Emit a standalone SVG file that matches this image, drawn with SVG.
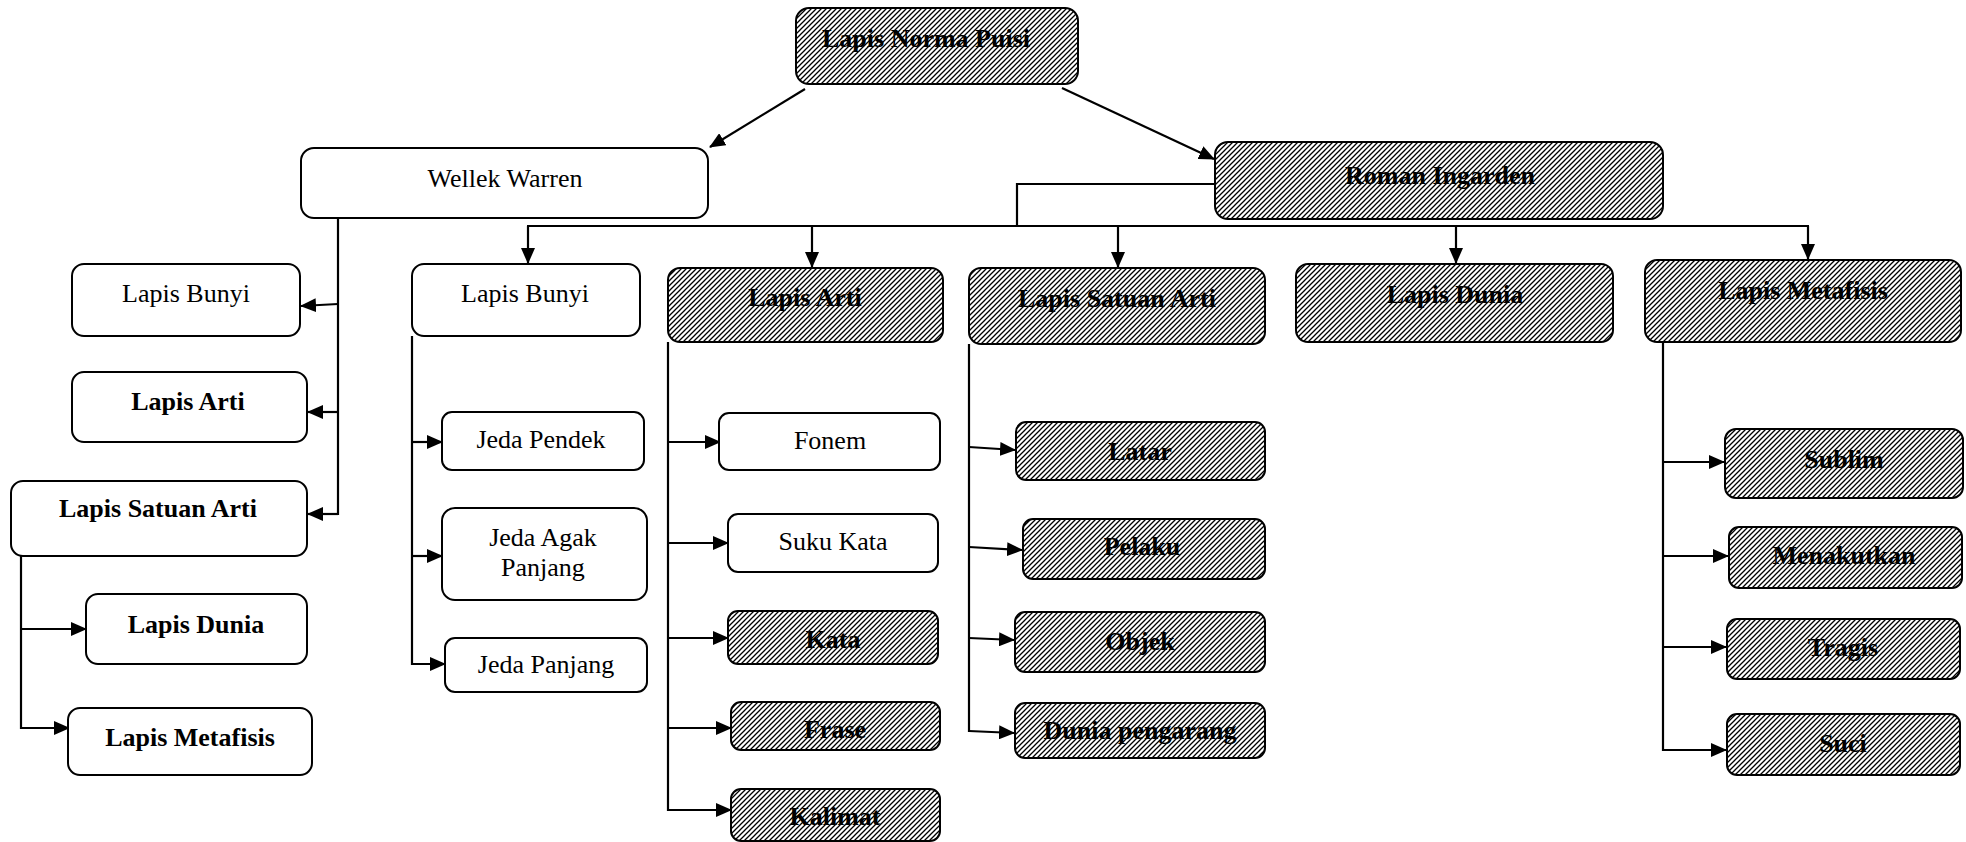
<svg xmlns="http://www.w3.org/2000/svg" width="1966" height="842" viewBox="0 0 1966 842">
<style>
.b{fill:#fff;stroke:#000;stroke-width:2}
.h{fill:url(#hatch);stroke:#000;stroke-width:2}
text{font-family:"Liberation Serif","Times New Roman",serif;font-size:26px;fill:#000;text-anchor:middle}
.bd{font-weight:bold}
.c line,.c polyline{stroke:#000;stroke-width:2.2;fill:none}
.a{marker-end:url(#ah)}
</style>
<defs>
<pattern id="hatch" patternUnits="userSpaceOnUse" width="5" height="5">
<rect width="5" height="5" fill="#fff"/>
<path d="M-1,1 L1,-1 M0,5 L5,0 M4,6 L6,4" stroke="#000" stroke-width="1.3"/>
</pattern>
<marker id="ah" markerWidth="16" markerHeight="14" refX="15" refY="7" orient="auto" markerUnits="userSpaceOnUse">
<path d="M0,0 L16,7 L0,14 z" fill="#000"/>
</marker>
</defs>
<rect width="1966" height="842" fill="#fff"/>

<g class="c" id="connectors">
<line class="a" x1="805" y1="89" x2="710" y2="147"/>
<line class="a" x1="1062" y1="88" x2="1214" y2="159"/>
<polyline points="1215,184 1017,184 1017,226"/>
<line x1="527" y1="226" x2="1809" y2="226"/>
<line class="a" x1="528" y1="226" x2="528" y2="263"/>
<line class="a" x1="812" y1="226" x2="812" y2="267"/>
<line class="a" x1="1118" y1="226" x2="1118" y2="267"/>
<line class="a" x1="1456" y1="226" x2="1456" y2="263"/>
<line class="a" x1="1808" y1="226" x2="1808" y2="259"/>

<line x1="338" y1="218" x2="338" y2="515"/>
<line class="a" x1="338" y1="304" x2="301" y2="306"/>
<line class="a" x1="338" y1="412" x2="308" y2="412"/>
<line class="a" x1="338" y1="514" x2="308" y2="514"/>

<line x1="21" y1="556" x2="21" y2="729"/>
<line class="a" x1="21" y1="629" x2="86" y2="629"/>
<line class="a" x1="21" y1="728" x2="69" y2="728"/>

<line x1="412" y1="336" x2="412" y2="665"/>
<line class="a" x1="412" y1="442" x2="442" y2="442"/>
<line class="a" x1="412" y1="556" x2="442" y2="556"/>
<line class="a" x1="412" y1="664" x2="445" y2="664"/>

<line x1="668" y1="342" x2="668" y2="811"/>
<line class="a" x1="668" y1="442" x2="720" y2="442"/>
<line class="a" x1="668" y1="543" x2="728" y2="543"/>
<line class="a" x1="668" y1="638" x2="728" y2="638"/>
<line class="a" x1="668" y1="728" x2="731" y2="728"/>
<line class="a" x1="668" y1="810" x2="731" y2="810"/>

<line x1="969" y1="344" x2="969" y2="732"/>
<line class="a" x1="969" y1="447" x2="1015" y2="450"/>
<line class="a" x1="969" y1="547" x2="1022" y2="550"/>
<line class="a" x1="969" y1="638" x2="1014" y2="640"/>
<line class="a" x1="969" y1="731" x2="1014" y2="733"/>

<line x1="1663" y1="342" x2="1663" y2="751"/>
<line class="a" x1="1663" y1="462" x2="1724" y2="462"/>
<line class="a" x1="1663" y1="556" x2="1728" y2="556"/>
<line class="a" x1="1663" y1="647" x2="1726" y2="647"/>
<line class="a" x1="1663" y1="750" x2="1726" y2="750"/>
</g>

<g id="n-norma"><rect class="h" x="796" y="8" width="282" height="76" rx="13"/><text class="bd" x="926" y="47">Lapis Norma Puisi</text></g>
<g id="n-wellek"><rect class="b" x="301" y="148" width="407" height="70" rx="13"/><text x="505" y="187">Wellek Warren</text></g>
<g id="n-roman"><rect class="h" x="1215" y="142" width="448" height="77" rx="13"/><text class="bd" x="1440" y="184">Roman Ingarden</text></g>

<g id="n-w-bunyi"><rect class="b" x="72" y="264" width="228" height="72" rx="12"/><text x="186" y="302">Lapis Bunyi</text></g>
<g id="n-w-arti"><rect class="b" x="72" y="372" width="235" height="70" rx="12"/><text class="bd" x="188" y="410">Lapis Arti</text></g>
<g id="n-w-satuan"><rect class="b" x="11" y="481" width="296" height="75" rx="12"/><text class="bd" x="158" y="517">Lapis Satuan Arti</text></g>
<g id="n-w-dunia"><rect class="b" x="86" y="594" width="221" height="70" rx="12"/><text class="bd" x="196" y="633">Lapis Dunia</text></g>
<g id="n-w-metafisis"><rect class="b" x="68" y="708" width="244" height="67" rx="12"/><text class="bd" x="190" y="746">Lapis Metafisis</text></g>

<g id="n-bunyi"><rect class="b" x="412" y="264" width="228" height="72" rx="12"/><text x="525" y="302">Lapis Bunyi</text></g>
<g id="n-jeda-pendek"><rect class="b" x="442" y="412" width="202" height="58" rx="10"/><text x="541" y="448">Jeda Pendek</text></g>
<g id="n-jeda-agak"><rect class="b" x="442" y="508" width="205" height="92" rx="13"/><text x="543" y="546">Jeda Agak</text><text x="543" y="576">Panjang</text></g>
<g id="n-jeda-panjang"><rect class="b" x="445" y="638" width="202" height="54" rx="10"/><text x="546" y="673">Jeda Panjang</text></g>

<g id="n-arti"><rect class="h" x="668" y="268" width="275" height="74" rx="12"/><text class="bd" x="805" y="306">Lapis Arti</text></g>
<g id="n-fonem"><rect class="b" x="719" y="413" width="221" height="57" rx="10"/><text x="830" y="449">Fonem</text></g>
<g id="n-suku"><rect class="b" x="728" y="514" width="210" height="58" rx="10"/><text x="833" y="550">Suku Kata</text></g>
<g id="n-kata"><rect class="h" x="728" y="611" width="210" height="53" rx="10"/><text class="bd" x="833" y="648">Kata</text></g>
<g id="n-frase"><rect class="h" x="731" y="702" width="209" height="48" rx="10"/><text class="bd" x="835" y="738">Frase</text></g>
<g id="n-kalimat"><rect class="h" x="731" y="789" width="209" height="52" rx="10"/><text class="bd" x="835" y="825">Kalimat</text></g>

<g id="n-satuan"><rect class="h" x="969" y="268" width="296" height="76" rx="12"/><text class="bd" x="1117" y="307">Lapis Satuan Arti</text></g>
<g id="n-latar"><rect class="h" x="1016" y="422" width="249" height="58" rx="10"/><text class="bd" x="1140" y="460">Latar</text></g>
<g id="n-pelaku"><rect class="h" x="1023" y="519" width="242" height="60" rx="10"/><text class="bd" x="1142" y="555">Pelaku</text></g>
<g id="n-objek"><rect class="h" x="1015" y="612" width="250" height="60" rx="10"/><text class="bd" x="1140" y="650">Objek</text></g>
<g id="n-dunia-pengarang"><rect class="h" x="1015" y="703" width="250" height="55" rx="10"/><text class="bd" x="1140" y="739">Dunia pengarang</text></g>

<g id="n-dunia"><rect class="h" x="1296" y="264" width="317" height="78" rx="12"/><text class="bd" x="1455" y="303">Lapis Dunia</text></g>
<g id="n-metafisis"><rect class="h" x="1645" y="260" width="316" height="82" rx="12"/><text class="bd" x="1803" y="299">Lapis Metafisis</text></g>
<g id="n-sublim"><rect class="h" x="1725" y="429" width="238" height="69" rx="11"/><text class="bd" x="1844" y="468">Sublim</text></g>
<g id="n-menakutkan"><rect class="h" x="1729" y="527" width="233" height="61" rx="10"/><text class="bd" x="1844" y="564">Menakutkan</text></g>
<g id="n-tragis"><rect class="h" x="1727" y="619" width="233" height="60" rx="10"/><text class="bd" x="1843" y="656">Tragis</text></g>
<g id="n-suci"><rect class="h" x="1727" y="714" width="233" height="61" rx="10"/><text class="bd" x="1843" y="752">Suci</text></g>
</svg>
